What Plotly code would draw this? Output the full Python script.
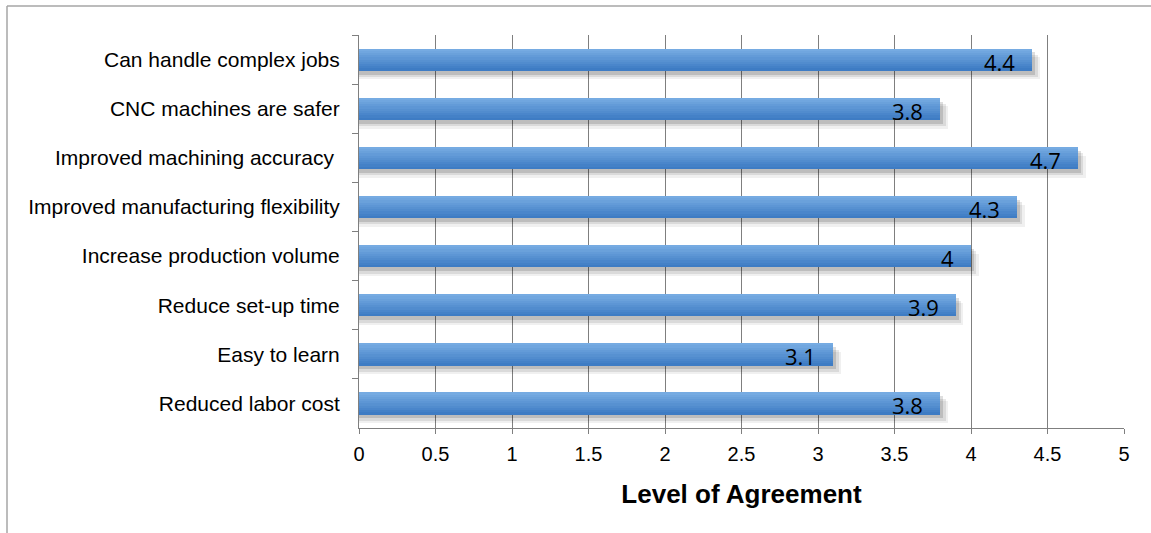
import plotly.graph_objects as go

# Survey statements (top to bottom) and mean agreement scores
statements = [
    "Can handle complex jobs",
    "CNC machines are safer",
    "Improved machining accuracy ",
    "Improved manufacturing flexibility",
    "Increase production volume",
    "Reduce set-up time",
    "Easy to learn",
    "Reduced labor cost",
]
scores = [4.4, 3.8, 4.7, 4.3, 4.0, 3.9, 3.1, 3.8]
score_labels = ["4.4", "3.8", "4.7", "4.3", "4", "3.9", "3.1", "3.8"]

x_ticks = [0, 0.5, 1, 1.5, 2, 2.5, 3, 3.5, 4, 4.5, 5]
x_tick_text = ["0", "0.5", "1", "1.5", "2", "2.5", "3", "3.5", "4", "4.5", "5"]

BAR_W = 0.45
fig = go.Figure()

# soft drop shadow under each bar (several translucent layers)
for ext, drop, alpha in [(0.05, 0.18, 0.06), (0.035, 0.13, 0.09), (0.02, 0.08, 0.13)]:
    fig.add_trace(go.Bar(
        y=statements, x=[s + ext for s in scores], orientation="h",
        width=BAR_W, offset=-BAR_W / 2 + drop,
        marker=dict(color=f"rgba(0,0,0,{alpha})", line=dict(width=0)),
        hoverinfo="skip", showlegend=False,
    ))

# vertical gradient fill, light at the top edge to deeper blue at the bottom
top_rgb = (118, 171, 226)
bot_rgb = (62, 124, 196)
n_strips = 10
strip = BAR_W / n_strips
for i in range(n_strips):
    t = i / (n_strips - 1)
    r, g, b = (round(top_rgb[k] + (bot_rgb[k] - top_rgb[k]) * t) for k in range(3))
    fig.add_trace(go.Bar(
        y=statements, x=scores, orientation="h",
        width=strip * 1.08, offset=-BAR_W / 2 + i * strip,
        marker=dict(color=f"rgb({r},{g},{b})", line=dict(width=0)),
        hoverinfo="skip", showlegend=False,
    ))

# value labels near the end of each bar
for s, lab, txt in zip(statements, scores, score_labels):
    fig.add_annotation(
        x=lab, y=s, text=txt, xanchor="right", yanchor="middle",
        xshift=-15, yshift=-2, showarrow=False,
        font=dict(family="Open Sans", size=22, color="#000000"),
    )

grey = "#7f7f7f"
fig.update_layout(
    width=1151, height=533,
    margin=dict(l=359, r=27, t=35, b=105),
    paper_bgcolor="white", plot_bgcolor="white",
    barmode="overlay", bargap=0,
    font=dict(family="Liberation Sans, Arial, sans-serif", color="#000000"),
    xaxis=dict(
        range=[0, 5], tickvals=x_ticks, ticktext=x_tick_text,
        showgrid=True, gridcolor=grey, gridwidth=1,
        showline=True, linecolor=grey, linewidth=1,
        ticks="outside", ticklen=5, tickcolor=grey,
        tickfont=dict(size=20), zeroline=False, ticklabelstandoff=3,
        title=dict(text="<b>Level of Agreement</b>", font=dict(size=26), standoff=20),
    ),
    yaxis=dict(
        autorange="reversed", categoryorder="array", categoryarray=statements,
        showgrid=False, showline=True, linecolor=grey, linewidth=1,
        ticks="outside", ticklen=6, tickcolor=grey, tickson="boundaries",
        tickfont=dict(size=21), ticklabelstandoff=14,
    ),
    shapes=[
        dict(type="line", xref="paper", yref="paper",
             x0=(7 - 359) / 765, x1=(1151 - 359) / 765,
             y0=(428 - 6) / 393, y1=(428 - 6) / 393,
             line=dict(color="#a6a6a6", width=1.5)),
        dict(type="line", xref="paper", yref="paper",
             x0=(7 - 359) / 765, x1=(7 - 359) / 765,
             y0=(428 - 6) / 393, y1=(428 - 545) / 393,
             line=dict(color="#a6a6a6", width=1.5)),
    ],
)

fig.write_html("out.html")
